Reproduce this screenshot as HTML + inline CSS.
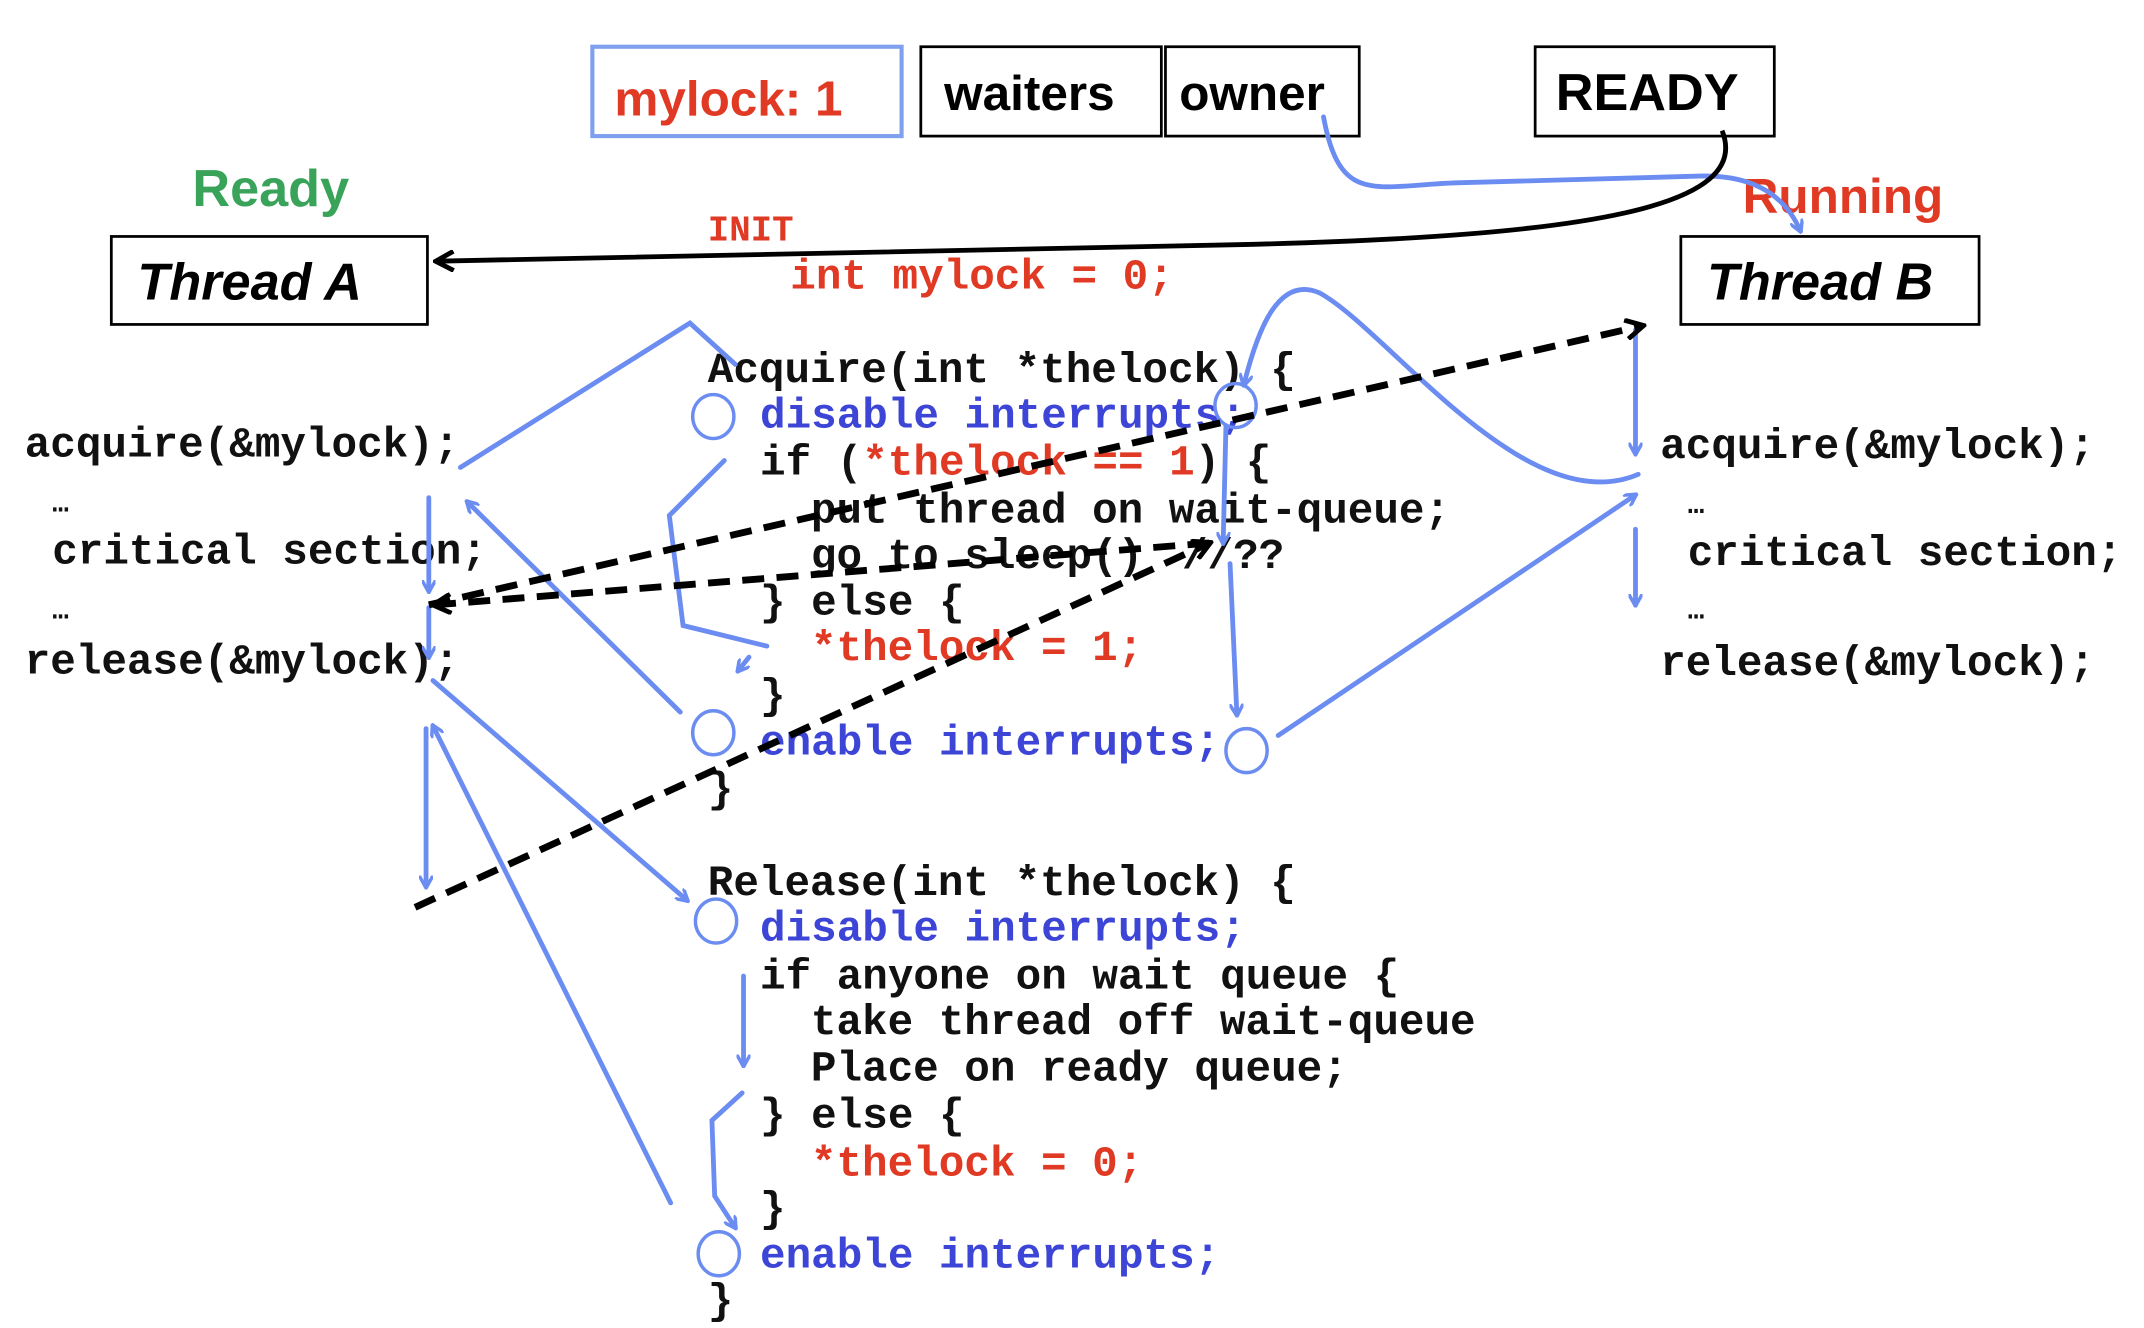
<!DOCTYPE html>
<html><head><meta charset="utf-8"><style>
html,body{margin:0;padding:0;background:#fff;}
svg{display:block}
.c{font-family:"Liberation Mono",monospace;font-weight:bold;font-size:31px;fill:#111;}
.r{fill:#e03a25}
.b{fill:#3d45d6}
.bl{stroke:#6b8cf0;stroke-width:3.5;fill:none;stroke-linecap:round}
.dk{stroke:#000;stroke-width:5;fill:none;stroke-dasharray:16 9}
.h{font-family:"Liberation Sans",sans-serif;font-size:40px;}
</style></head><body>
<svg width="2144" height="1328" viewBox="0 0 1560 966" preserveAspectRatio="none" xmlns="http://www.w3.org/2000/svg">
<defs>
<marker id="ab" markerWidth="10" markerHeight="10" refX="8" refY="5" orient="auto" markerUnits="userSpaceOnUse" viewBox="0 0 10 10"><path d="M0,0 L9,5 L0,10" fill="none" stroke="#6b8cf0" stroke-width="2.5"/></marker>
<marker id="ak" markerWidth="16" markerHeight="16" refX="13" refY="8" orient="auto" markerUnits="userSpaceOnUse" viewBox="0 0 16 16"><path d="M1,1 L14,8 L1,15" fill="none" stroke="#000" stroke-width="3.5"/></marker>
</defs>
<rect x="431" y="34" width="225" height="65" fill="#fff" stroke="#7fa0ee" stroke-width="3"/>
<text x="447" y="84" class="h r" font-weight="bold" style="font-size:36px">mylock: 1</text>
<rect x="670" y="34" width="175" height="65" fill="#fff" stroke="#000" stroke-width="2"/>
<rect x="848" y="34" width="141" height="65" fill="#fff" stroke="#000" stroke-width="2"/>
<text x="687" y="80" class="h" font-weight="bold" style="font-size:36px">waiters</text>
<text x="858" y="80" class="h" font-weight="bold" style="font-size:36px">owner</text>
<rect x="1117" y="34" width="174" height="65" fill="#fff" stroke="#000" stroke-width="2"/>
<text x="1132" y="80" class="h" font-weight="bold" style="font-size:38px">READY</text>
<text x="140" y="150" class="h" font-weight="bold" fill="#3aa35a" style="font-size:38px">Ready</text>
<text x="1268" y="155" class="h r" font-weight="bold" style="font-size:36px">Running</text>
<rect x="81" y="172" width="230" height="64" fill="#fff" stroke="#000" stroke-width="2"/>
<text x="100" y="218" class="h" font-weight="bold" font-style="italic" style="font-size:38px">Thread A</text>
<rect x="1223" y="172" width="217" height="64" fill="#fff" stroke="#000" stroke-width="2"/>
<text x="1242" y="218" class="h" font-weight="bold" font-style="italic" style="font-size:38px">Thread B</text>
<path class="bl" d="M963,85 C975,150 1000,135 1060,133 L1240,128 C1280,128 1300,145 1310,168" marker-end="url(#ab)"/>
<path d="M1253,95 C1275,150 1160,172 900,178 L318,190" stroke="#000" stroke-width="3.5" fill="none" marker-end="url(#ak)"/>
<text x="515" y="175" class="c r" style="font-size:26px">INIT</text>
<text x="575" y="210" class="c r">int mylock = 0;</text>
<text x="515" y="278" class="c">Acquire(int *thelock) {</text>
<text x="553" y="311" class="c b">disable interrupts;</text>
<text x="553" y="345" class="c">if (<tspan class="r">*thelock == 1</tspan>) {</text>
<text x="590" y="380" class="c">put thread on wait-queue;</text>
<text x="590" y="413" class="c">go to sleep()</text>
<text x="860" y="413" class="c">//??</text>
<text x="553" y="447" class="c">} else {</text>
<text x="590" y="480" class="c r">*thelock = 1;</text>
<text x="553" y="515" class="c">}</text>
<text x="553" y="549" class="c b">enable interrupts;</text>
<text x="515" y="583" class="c">}</text>
<text x="515" y="651" class="c">Release(int *thelock) {</text>
<text x="553" y="684" class="c b">disable interrupts;</text>
<text x="553" y="719" class="c">if anyone on wait queue {</text>
<text x="590" y="752" class="c">take thread off wait-queue</text>
<text x="590" y="786" class="c">Place on ready queue;</text>
<text x="553" y="820" class="c">} else {</text>
<text x="590" y="855" class="c r">*thelock = 0;</text>
<text x="553" y="888" class="c">}</text>
<text x="553" y="922" class="c b">enable interrupts;</text>
<text x="515" y="955" class="c">}</text>
<text x="18" y="332" class="c">acquire(&amp;mylock);</text>
<text x="38" y="372" class="c" style="font-size:20px">…</text>
<text x="38" y="410" class="c">critical section;</text>
<text x="38" y="450" class="c" style="font-size:20px">…</text>
<text x="18" y="490" class="c">release(&amp;mylock);</text>
<text x="1208" y="333" class="c">acquire(&amp;mylock);</text>
<text x="1228" y="373" class="c" style="font-size:20px">…</text>
<text x="1228" y="411" class="c">critical section;</text>
<text x="1228" y="450" class="c" style="font-size:20px">…</text>
<text x="1208" y="491" class="c">release(&amp;mylock);</text>
<g fill="none" stroke="#6b8cf0" stroke-width="2.5">
<ellipse cx="519" cy="303" rx="15" ry="16"/><ellipse cx="899" cy="295" rx="15" ry="16"/>
<ellipse cx="519" cy="533" rx="15" ry="16"/><ellipse cx="907" cy="546" rx="15" ry="16"/>
<ellipse cx="521" cy="670" rx="15" ry="16"/><ellipse cx="523" cy="912" rx="15" ry="16"/>
</g>
<path class="bl" d="M335,340 L502,235 L535,265"/>
<path class="bl" d="M527,335 L487,375 L497,455 L558,470" />
<path class="bl" d="M545,478 L537,488" marker-end="url(#ab)"/>
<path class="bl" d="M495,518 L340,365" marker-end="url(#ab)"/>
<path class="bl" d="M312,362 L312,430" marker-end="url(#ab)"/>
<path class="bl" d="M312,442 L312,478" marker-end="url(#ab)"/>
<path class="bl" d="M315,495 L500,655" marker-end="url(#ab)"/>
<path class="bl" d="M310,530 L310,645" marker-end="url(#ab)"/>
<path class="bl" d="M488,875 L315,528" marker-end="url(#ab)"/>
<path class="bl" d="M1192,345 C1110,380 1010,240 960,213 C930,200 915,240 905,280" marker-end="url(#ab)"/>
<path class="bl" d="M892,310 L890,395" marker-end="url(#ab)"/>
<path class="bl" d="M895,410 L900,520" marker-end="url(#ab)"/>
<path class="bl" d="M930,535 L1190,360" marker-end="url(#ab)"/>
<path class="bl" d="M1190,240 L1190,330" marker-end="url(#ab)"/>
<path class="bl" d="M1190,385 L1190,440" marker-end="url(#ab)"/>
<path class="bl" d="M541,710 L541,775" marker-end="url(#ab)"/>
<path class="bl" d="M540,795 L518,815 L520,870 L535,893" marker-end="url(#ab)"/>
<path class="dk" d="M312,440 L1195,237" marker-end="url(#ak)"/>
<path class="dk" d="M880,395 L316,440" marker-end="url(#ak)"/>
<path class="dk" d="M302,660 L880,395" marker-end="url(#ak)"/>
</svg>
</body></html>
